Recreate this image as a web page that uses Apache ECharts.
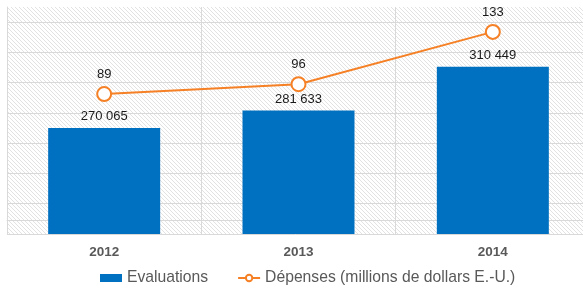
<!DOCTYPE html>
<html>
<head>
<meta charset="utf-8">
<script src="https://cdn.jsdelivr.net/npm/echarts@6/dist/echarts.min.js"></script>
<style>
    html, body { margin: 0; padding: 0; background: #fff; }
    #chart { width: 583px; height: 289px; }
</style>
</head>
<body>
<div id="chart"></div>
<script>
// annees
var years = ["2012", "2013", "2014"];
// nombre d'evaluations
var evaluations = [270065, 281633, 310449];
// depenses (millions de dollars E.-U.)
var depenses = [89, 96, 133];

var barName = "Evaluations";
var lineName = "Dépenses (millions de dollars E.-U.)";

function fmtSpace(v) {
    return String(v).replace(/\B(?=(\d{3})+(?!\d))/g, " ");
}

// fond hachuré
var hatch = document.createElement("canvas");
hatch.width = 4;
hatch.height = 4;
var hc = hatch.getContext("2d");
hc.fillStyle = "#ffffff";
hc.fillRect(0, 0, 4, 4);
hc.strokeStyle = "#e2e2e2";
hc.lineWidth = 1;
hc.beginPath();
hc.moveTo(0, 0);
hc.lineTo(4, 4);
hc.moveTo(-1, 3);
hc.lineTo(1, 5);
hc.moveTo(3, -1);
hc.lineTo(5, 1);
hc.stroke();

var grey = "#d9d9d9";
var font = "Arial, 'Liberation Sans', sans-serif";

var option = {
    animation: false,
    textStyle: { fontFamily: font },
    grid: {
        left: 7,
        right: -7,
        top: 7,
        bottom: 55,
        outerBoundsMode: "none",
        show: true,
        borderWidth: 0,
        backgroundColor: { image: hatch, repeat: "repeat" }
    },
    legend: {
        left: 95,
        top: 265,
        itemWidth: 22,
        itemHeight: 8,
        itemGap: 29,
        textStyle: { color: "#595959", fontSize: 15.7, fontFamily: font },
        data: [
            { name: barName, icon: "rect" },
            { name: lineName }
        ]
    },
    xAxis: {
        type: "category",
        data: years,
        axisLine: { show: true, lineStyle: { color: grey } },
        axisTick: { show: true, length: 4, lineStyle: { color: grey } },
        splitLine: { show: true, lineStyle: { color: grey } },
        axisLabel: {
            color: "#595959",
            fontSize: 13.5,
            fontWeight: "bold",
            margin: 11
        }
    },
    yAxis: [{
        type: "value",
        min: 200000,
        max: 350000,
        interval: 20000,
        axisLabel: { show: false },
        axisTick: { show: false },
        axisLine: { show: true, lineStyle: { color: grey } },
        splitLine: {
            show: true,
            lineStyle: {
                color: [grey, grey, grey, grey, grey, grey, grey, grey, "rgba(0,0,0,0)"]
            }
        }
    }, {
        type: "value",
        min: -10,
        max: 150.6,
        show: false,
        splitLine: { show: false }
    }],
    series: [{
        name: barName,
        type: "bar",
        data: evaluations,
        barWidth: 112,
        itemStyle: { color: "#0070C0" },
        label: {
            show: true,
            position: "top",
            distance: 5,
            color: "#1a1a1a",
            fontSize: 13,
            formatter: function (p) { return fmtSpace(p.value); }
        }
    }, {
        name: lineName,
        type: "line",
        yAxisIndex: 1,
        data: depenses,
        symbol: "circle",
        symbolSize: 14,
        lineStyle: { color: "#F58025", width: 2 },
        itemStyle: { color: "#ffffff", borderColor: "#F58025", borderWidth: 2 },
        label: {
            show: true,
            position: "top",
            distance: 5,
            color: "#1a1a1a",
            fontSize: 13
        }
    }]
};

var chart = echarts.init(document.getElementById("chart"));
chart.setOption(option);
</script>
</body>
</html>
